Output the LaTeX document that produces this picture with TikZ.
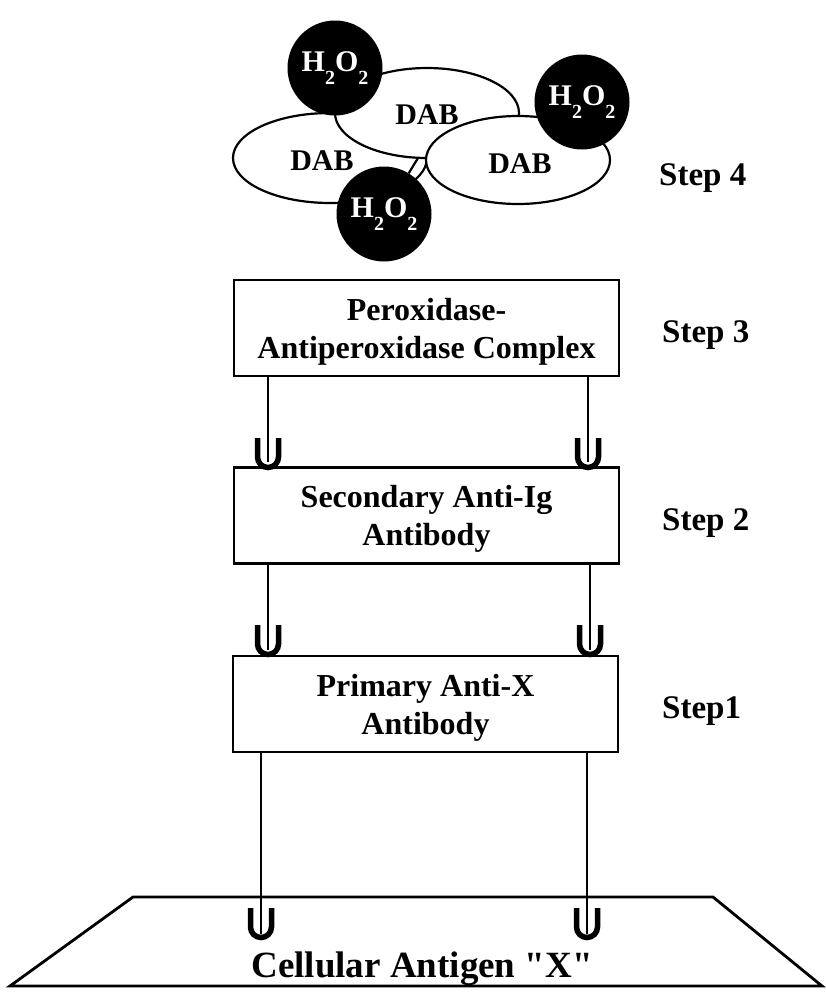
\documentclass[tikz,border=0pt]{standalone}
\usepackage{fontspec}
\setmainfont{Liberation Serif}
\newfontfamily\qfont{Liberation Serif}
\begin{document}
\begin{tikzpicture}[x=1pt,y=-1pt,
  box/.style={draw,line width=2.8pt,minimum width=385pt,minimum height=96pt,align=center,font=\fontsize{32}{38}\selectfont\bfseries,inner sep=0pt,text depth=0pt},
  steplabel/.style={font=\fontsize{33}{36}\selectfont\bfseries,anchor=base west,inner sep=0pt},
  hcirc/.style={circle,fill=black,minimum size=95pt,inner sep=0pt,text=white,font=\fontsize{30}{30}\selectfont\bfseries},
  dab/.style={font=\fontsize{30}{30}\selectfont\bfseries,inner sep=0pt},
  link/.style={line width=1.8pt},
  ushape/.style={line width=5.5pt},
  ellip/.style={draw,fill=white,line width=2.2pt}
]
\newcommand{\hoo}{H\raisebox{-13pt}{\fontsize{20}{20}\selectfont 2}O\raisebox{-13pt}{\fontsize{20}{20}\selectfont 2}}
\newcommand{\uat}[2]{\draw[ushape] (#1-10.5,#2) -- (#1-10.5,#2+19) arc[start angle=180,end angle=360,radius=10.5pt] -- (#1+10.5,#2);}
\useasboundingbox (0,0) rectangle (826,994);
\fill[white] (0,0) rectangle (826,994);

% Step 4 cluster
\draw[ellip] (330,158) ellipse [x radius=97pt,y radius=45pt];
\draw[ellip] (427,113) ellipse [x radius=92pt,y radius=45pt];
\draw[ellip] (518,160) ellipse [x radius=92pt,y radius=44pt];
\node[dab] (d1) at (427,115) {DAB};
\node[dab] (d2) at (322,161) {DAB};
\node[dab] (d3) at (520,164) {DAB};
\node[hcirc] (h1) at (335,68) {\hoo};
\node[hcirc] (h2) at (582,102) {\hoo};
\node[hcirc] (h3) at (384,214) {\hoo};
\coordinate (j) at (418,158);
\draw[line width=2.2pt] (h3) -- (j);

% boxes
\node[box] (b3) at (426.5,328) {Peroxidase-\\Antiperoxidase Complex};
\node[box] (b2) at (426.5,515.5) {Secondary Anti-Ig\\Antibody};
\node[box] (b1) at (425.5,704) {Primary Anti-X\\Antibody};

% trapezoid
\draw[line width=2.8pt,line join=miter] (133,897) coordinate (t1) -- (713,897) coordinate (t2) -- (822,986) coordinate (t3) -- (10,986) coordinate (t4) -- cycle;
\node[font=\qfont\fontsize{37}{37}\selectfont\bfseries,inner sep=0pt,anchor=base] (cx) at (422,977) {Cellular Antigen "X"};

% step labels
\node[steplabel] (s4) at (659,185) {Step 4};
\node[steplabel] (s3) at (662,342) {Step 3};
\node[steplabel] (s2) at (662,530) {Step 2};
\node[steplabel] (s1) at (662,718) {Step1};

% connectors and U shapes
\coordinate (u3l) at (268,462); \coordinate (u3r) at (588,462);
\coordinate (u2l) at (268,650); \coordinate (u2r) at (590,650);
\coordinate (u1l) at (261,934); \coordinate (u1r) at (587,934);
\draw[link] (b3.south -| u3l) -- (u3l);
\draw[link] (b3.south -| u3r) -- (u3r);
\draw[link] (b2.south -| u2l) -- (u2l);
\draw[link] (b2.south -| u2r) -- (u2r);
\draw[link] (b1.south -| u1l) -- (u1l);
\draw[link] (b1.south -| u1r) -- (u1r);
\uat{268}{438}
\uat{588}{438}
\uat{268}{625}
\uat{590}{625}
\uat{261}{908}
\uat{587}{908}
\end{tikzpicture}
\end{document}
